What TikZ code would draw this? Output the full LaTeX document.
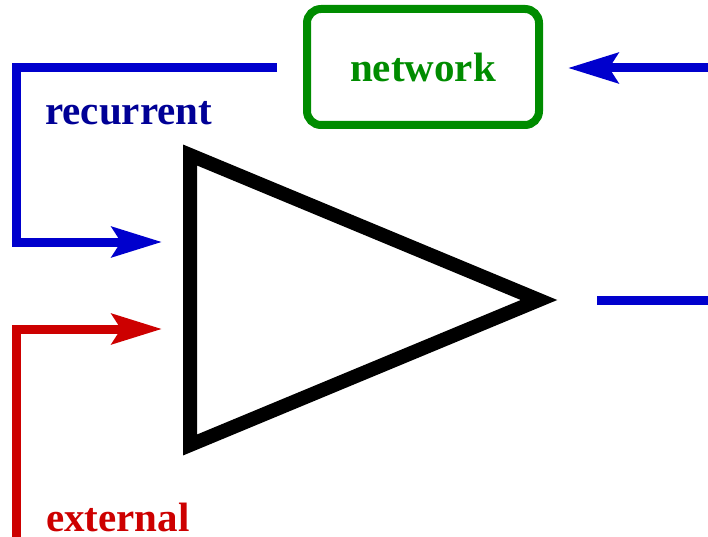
\documentclass[tikz,border=0pt]{standalone}
\usepackage{fontspec}
\setmainfont{Liberation Serif}
\usetikzlibrary{arrows.meta}
\definecolor{lineblue}{RGB}{0,0,205}
\definecolor{textnavy}{RGB}{0,0,150}
\definecolor{boxgreen}{RGB}{0,140,0}
\definecolor{linered}{RGB}{205,0,0}
\tikzset{
  bluewire/.style={draw=lineblue, line width=9pt},
  redwire/.style={draw=linered, line width=9pt},
  bigtip/.style={-{Stealth[length=50pt,width=30pt,inset=9pt]}},
  lbl/.style={font=\fontsize{41}{41}\selectfont\bfseries, anchor=base west, inner sep=0pt}
}
\begin{document}
\begin{tikzpicture}[x=1pt,y=-1pt]
\useasboundingbox (0,0) rectangle (708,537);
% network box
\node[draw=boxgreen, line width=8pt, rounded corners=14pt, minimum width=232pt, minimum height=116pt,
      text=boxgreen, font=\fontsize{41}{41}\selectfont\bfseries, inner sep=0pt] (network) at (423,67) {network\hspace{7pt}};
% triangle (amplifier)
\coordinate (ttop) at (190,155);
\coordinate (tbot) at (190,445);
\coordinate (apex) at (539,300);
\draw[line width=14pt, miter limit=10] (ttop) -- (apex) -- (tbot) -- cycle;
% coordinates for free ends
\coordinate (rin) at (162,242);
\coordinate (ein) at (162,329);
\coordinate (estart) at (16,537);
\coordinate (netin) at (708,68);
\coordinate (outend) at (708,300);
% recurrent connector
\draw[bluewire, bigtip, shorten <=26pt] (network.west |- 0,68) -- (16,68) -- (16,242) -- (rin);
% external connector
\draw[redwire, bigtip] (estart) -- (16,329) -- (ein);
% input to network
\draw[bluewire, bigtip, shorten >=25pt] (netin) -- (network.east |- 0,68);
% output
\draw[bluewire, shorten <=58pt] (apex) -- (outend);
% labels
\node[lbl, text=textnavy] (reclbl) at (45,125) {recurrent};
\node[lbl, text=linered] (extlbl) at (46,531) {external};
\end{tikzpicture}
\end{document}
